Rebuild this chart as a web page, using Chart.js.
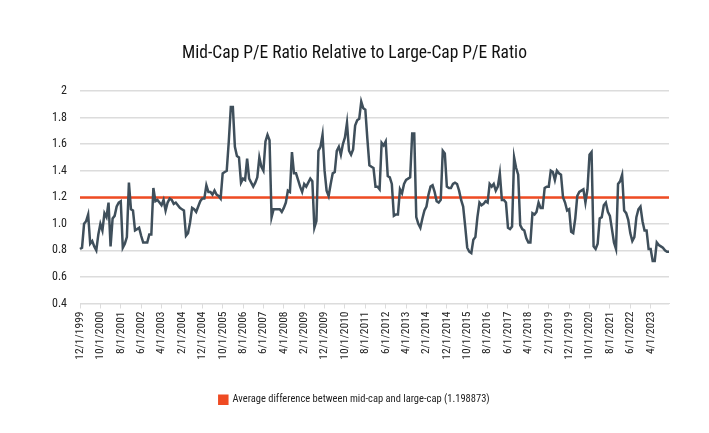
<!DOCTYPE html>
<html lang="en">
<head>
    <meta charset="UTF-8">
    <title>Mid-Cap P/E Ratio Relative to Large-Cap P/E Ratio</title>
    <script src="https://cdn.jsdelivr.net/npm/chart.js@4.4.1/dist/chart.umd.min.js"></script>
</head>
<style>
    body {
        margin: 0;
        background: #fff;
    }
    #wrap {
        width: 709px;
        height: 433px;
    }
</style>
<body>
    <div id="wrap"><canvas id="chart" width="709" height="433"></canvas></div>
</body>
<script>
    // monthly series, first month 12/1/1999
    const startYear = 1999;
    const startMonth = 12;

    // mid-cap P/E divided by large-cap P/E, one value per month
    const ratio = [
        0.81, 0.82, 1.00, 1.02, 1.07, 0.85, 0.87, 0.83, 0.80, 0.92,
        1.00, 0.95, 1.08, 1.05, 1.16, 0.83, 1.04, 1.06, 1.13, 1.16,
        1.17, 0.82, 0.85, 0.90, 1.31, 1.11, 1.10, 0.95, 0.96, 0.97,
        0.91, 0.86, 0.86, 0.86, 0.92, 0.92, 1.27, 1.17, 1.18, 1.16,
        1.14, 1.18, 1.10, 1.16, 1.19, 1.18, 1.15, 1.16, 1.14, 1.12,
        1.11, 1.10, 0.91, 0.93, 1.01, 1.12, 1.11, 1.09, 1.13, 1.17,
        1.19, 1.19, 1.29, 1.24, 1.24, 1.22, 1.25, 1.22, 1.21, 1.19,
        1.38, 1.39, 1.40, 1.62, 1.88, 1.88, 1.58, 1.51, 1.50, 1.31,
        1.34, 1.33, 1.49, 1.34, 1.31, 1.28, 1.31, 1.35, 1.50, 1.43,
        1.40, 1.62, 1.67, 1.63, 1.05, 1.11, 1.11, 1.11, 1.11, 1.09,
        1.12, 1.16, 1.25, 1.24, 1.54, 1.38, 1.38, 1.33, 1.28, 1.24,
        1.30, 1.28, 1.31, 1.34, 1.32, 0.97, 1.02, 1.55, 1.58, 1.67,
        1.40, 1.25, 1.21, 1.30, 1.38, 1.39, 1.55, 1.58, 1.52, 1.60,
        1.65, 1.76, 1.55, 1.52, 1.56, 1.74, 1.78, 1.79, 1.92, 1.87,
        1.86, 1.64, 1.44, 1.43, 1.42, 1.28, 1.28, 1.26, 1.61, 1.59,
        1.62, 1.36, 1.35, 1.30, 1.06, 1.07, 1.07, 1.26, 1.23, 1.30,
        1.33, 1.34, 1.35, 1.68, 1.68, 1.05, 1.00, 0.97, 1.04, 1.10,
        1.13, 1.22, 1.28, 1.29, 1.24, 1.17, 1.16, 1.18, 1.55, 1.53,
        1.28, 1.27, 1.27, 1.30, 1.31, 1.30, 1.25, 1.18, 1.13, 0.98,
        0.82, 0.79, 0.78, 0.88, 0.90, 1.05, 1.16, 1.14, 1.15, 1.17,
        1.16, 1.30, 1.28, 1.30, 1.25, 1.28, 1.38, 1.18, 1.18, 1.16,
        0.97, 0.96, 0.98, 1.50, 1.42, 1.37, 0.99, 0.96, 0.95, 0.89,
        0.86, 0.86, 1.08, 1.07, 1.09, 1.16, 1.12, 1.12, 1.27, 1.28,
        1.28, 1.40, 1.39, 1.33, 1.40, 1.38, 1.37, 1.20, 1.16, 1.10,
        1.11, 0.94, 0.93, 1.04, 1.21, 1.24, 1.25, 1.26, 1.16, 1.26,
        1.52, 1.54, 0.83, 0.81, 0.85, 1.04, 1.05, 1.14, 1.16, 1.09,
        1.06, 0.96, 0.86, 0.81, 1.30, 1.32, 1.37, 1.10, 1.08, 1.03,
        0.93, 0.87, 0.90, 1.05, 1.11, 1.13, 1.02, 0.95, 0.95, 0.81,
        0.81, 0.72, 0.72, 0.86, 0.84, 0.83, 0.82, 0.80, 0.79, 0.79
    ];

    const avgDiff = 1.198873;
    const avgLabel = 'Average difference between mid-cap and large-cap (1.198873)';

    // y axis ticks as printed
    const yTicks = ['0.4', '0.6', '0.8', '1.0', '1.2', '1.4', '1.6', '1.8', '2'];

    // x labels: m/1/yyyy for each month, only every 10th is printed
    const months = [];
    for (let i = 0; i < ratio.length; i++) {
        const m = (startMonth - 1 + i) % 12 + 1;
        const y = startYear + Math.floor((startMonth - 1 + i) / 12);
        months.push(m + '/1/' + y);
    }
    const avgLine = ratio.map(() => avgDiff);

    const font = "'Roboto Condensed', 'Liberation Sans', sans-serif";
    const gridColor = '#dcdcdc';

    const ctx = document.getElementById('chart').getContext('2d');
    const myChart = new Chart(ctx, {
        type: 'line',
        data: {
            labels: months,
            datasets: [{
                label: 'Mid-cap / large-cap P/E',
                data: ratio,
                borderColor: '#3f4f5b',
                backgroundColor: '#3f4f5b',
                borderWidth: 2.5,
                pointRadius: 0,
                tension: 0
            }, {
                label: avgLabel,
                data: avgLine,
                borderColor: '#ef4b23',
                backgroundColor: '#ef4b23',
                borderWidth: 2.5,
                pointRadius: 0
            }]
        },
        options: {
            responsive: false,
            animation: false,
            layout: {
                padding: { left: 0, right: 0, top: 0, bottom: 18 }
            },
            plugins: {
                title: {
                    display: true,
                    text: 'Mid-Cap P/E Ratio Relative to Large-Cap P/E Ratio',
                    color: '#111',
                    font: { family: font, size: 17.5, weight: 'normal' },
                    padding: { top: 43, bottom: 27 }
                },
                legend: {
                    position: 'bottom',
                    labels: {
                        filter: item => item.datasetIndex === 1,
                        boxWidth: 8,
                        boxHeight: 8,
                        color: '#222',
                        padding: 10,
                        font: { family: font, size: 10.5 }
                    }
                },
                tooltip: { enabled: false }
            },
            scales: {
                x: {
                    afterFit: scale => { scale.height = 81; },
                    grid: {
                        drawOnChartArea: false,
                        color: gridColor,
                        tickLength: 5
                    },
                    border: { color: gridColor },
                    ticks: {
                        autoSkip: false,
                        maxRotation: 90,
                        minRotation: 90,
                        padding: 3,
                        color: '#222',
                        font: { family: font, size: 11.5 },
                        callback: function(value, index) {
                            if (index % 10 !== 0) return null;
                            return this.getLabelForValue(value);
                        }
                    }
                },
                y: {
                    min: 0.4,
                    max: 2,
                    afterFit: scale => { scale.width = 80; },
                    grid: {
                        color: gridColor,
                        lineWidth: 1.5,
                        drawTicks: false
                    },
                    border: { display: false },
                    ticks: {
                        stepSize: 0.2,
                        padding: 13,
                        color: '#222',
                        font: { family: font, size: 12 },
                        callback: function(value, index) {
                            return yTicks[index];
                        }
                    }
                },
                // empty right-hand margin so the title stays centred on the page
                yRight: {
                    position: 'right',
                    afterFit: scale => { scale.width = 40; },
                    grid: { display: false },
                    border: { display: false },
                    ticks: { display: false }
                }
            }
        }
    });
</script>
</html>
